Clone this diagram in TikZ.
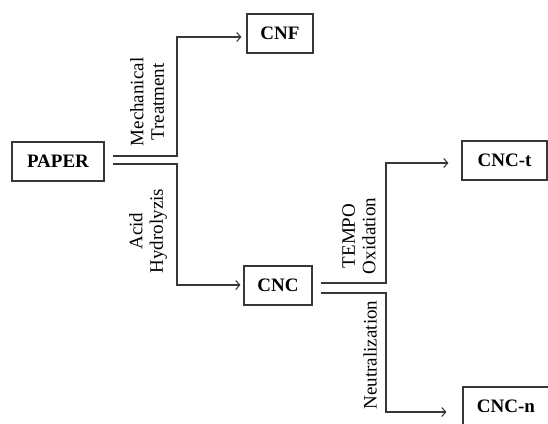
\documentclass[tikz,border=0pt]{standalone}
\usepackage{fontspec}
\setmainfont{Liberation Serif}
\usetikzlibrary{arrows.meta}
\definecolor{linegray}{RGB}{55,55,55}
\tikzset{
  box/.style={draw=linegray, line width=1.1pt, inner sep=0pt, minimum height=39pt,
    font=\fontsize{19}{20}\selectfont\bfseries, text=black},
  lbl/.style={rotate=90, align=center, inner sep=0pt,
    font=\fontsize{19}{20.5}\selectfont, text=black},
  arr/.style={draw=linegray, line width=1.1pt, -{Straight Barb[length=4pt,width=9pt]}},
  ln/.style={draw=linegray, line width=1.1pt}
}
\begin{document}
\begin{tikzpicture}[x=1pt,y=-1pt]
\useasboundingbox (0,0) rectangle (548,423);
\clip (0,0) rectangle (548,423);

\node[box, minimum width=92pt] (paper) at (58,161.5) {PAPER};
\node[box, minimum width=66pt] (cnf) at (280,33.5) {CNF};
\node[box, minimum width=68pt] (cnc) at (278,285.5) {CNC};
\node[box, minimum width=85pt] (cnct) at (504.5,160.5) {CNC-t};
\node[box, minimum width=86pt] (cncn) at (506,406.5) {CNC-n};

\node[lbl] (lmech) at (147,102) {Mechanical\\Treatment};
\node[lbl] (lacid) at (148,231) {Acid\\Hydrolyzis};
\node[lbl] (ltempo) at (359,236) {TEMPO\\Oxidation};
\node[lbl] (lneut) at (370,355) {Neutralization};

\coordinate (m0) at (113,156);
\coordinate (mk) at (177,37);
\coordinate (a0) at (113,164);
\coordinate (ak) at (177,285);
\coordinate (t0) at (321,283);
\coordinate (tk) at (386,163);
\coordinate (n0) at (321,293);
\coordinate (nk) at (386,412);

\draw[arr, shorten >=5pt] (m0) -| (mk) -- (mk -| cnf.west);
\draw[arr, shorten >=3pt] (a0) -| (ak) -- (ak -| cnc.west);
\draw[arr, shorten >=13pt] (t0) -| (tk) -- (tk -| cnct.west);
\draw[arr, shorten >=16pt] (n0) -| (nk) -- (nk -| cncn.west);
\end{tikzpicture}
\end{document}
